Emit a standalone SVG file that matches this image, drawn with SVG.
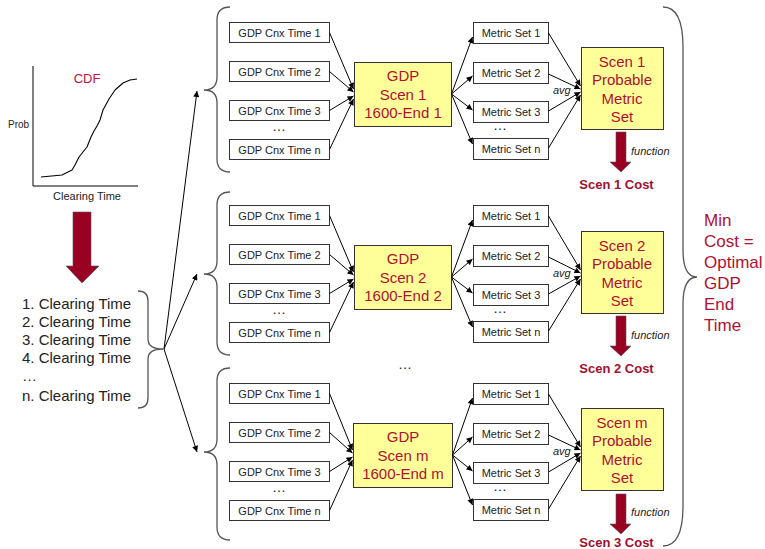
<svg xmlns="http://www.w3.org/2000/svg" width="765" height="549" viewBox="0 0 765 549">
<defs>
<style>
text{font-family:"Liberation Sans",Arial,Helvetica,sans-serif}
.box{fill:#fff;stroke:#333;stroke-width:1}
.ybox{fill:#FFFF99;stroke:#333;stroke-width:1}
.lbl{font-size:11px;fill:#222;text-anchor:middle}
.big{font-size:15px;fill:#B01030;text-anchor:middle}
.dots{font-size:14px;fill:#222;text-anchor:middle}
.it{font-size:11px;fill:#222;font-style:italic}
.cost{font-size:13px;fill:#A0102E;font-weight:bold;text-anchor:middle}
.conn{stroke:#000;stroke-width:1;fill:none;marker-end:url(#ah)}
.brace{stroke:#555;stroke-width:1.3;fill:none}
.rarrow{fill:#990022;stroke:#555;stroke-width:0.6}
</style>
<marker id="ah" viewBox="0 0 10 10" refX="10" refY="5" markerWidth="8" markerHeight="6" orient="auto" markerUnits="userSpaceOnUse"><path d="M0,0 L10,5 L0,10 z" fill="#000"/></marker>
</defs>
<rect width="765" height="549" fill="#fff"/>

<g id="cdf-chart">
<path d="M33,66 L33,186 L138,186" stroke="#000" stroke-width="1" fill="none"/>
<polyline points="41,177 62,175 72,170 75,165 79,157 83,152 87,147 89,142 91,137 94,131 97,126 100,120 103,110 109,99 115,90 123,83 130,80 137,79" fill="none" stroke="#000" stroke-width="1.1" stroke-linejoin="round"/>
<text x="87" y="83" font-size="13" fill="#C0143C" text-anchor="middle">CDF</text>
<text x="8" y="128" font-size="10" fill="#222">Prob</text>
<text x="87" y="200" font-size="11" fill="#222" text-anchor="middle">Clearing Time</text>
</g>

<g id="down-arrow"><polygon class="rarrow" points="73,212 91,212 91,266 99,266 82,283 66,266 73,266"/></g>

<g id="clearing-list" font-size="15" fill="#222">
<text x="22" y="309">1. Clearing Time</text>
<text x="22" y="327">2. Clearing Time</text>
<text x="22" y="345">3. Clearing Time</text>
<text x="22" y="363">4. Clearing Time</text>
<text x="22" y="381">…</text>
<text x="22" y="401">n. Clearing Time</text>
</g>

<g id="braces">
<path class="brace" d="M138,291 Q148,291 148,301 L148,339 Q148,349 163,349 Q148,349 148,359 L148,398 Q148,408 138,408" stroke="#333"/>
<path class="brace" d="M230,7 Q217,7 217,20 L217,77 Q217,90 204,90 Q217,90 217,103 L217,159 Q217,172 230,172"/>
<path class="brace" d="M230,192 Q217,192 217,205 L217,261 Q217,274 204,274 Q217,274 217,287 L217,342 Q217,355 230,355"/>
<path class="brace" d="M230,368 Q217,368 217,381 L217,439 Q217,452 204,452 Q217,452 217,465 L217,527 Q217,540 230,540"/>
<path class="brace" d="M663,7 Q683,7 683,47 L683,250 Q683,277 697,277 Q683,277 683,304 L683,506 Q683,546 663,546" stroke-width="1.6"/>
</g>

<g id="b1" transform="translate(0,0)">
<g id="b1-cnx1"><rect class="box" x="229.5" y="22.5" width="100" height="20"/><text class="lbl" x="279.5" y="36.5">GDP Cnx Time 1</text></g>
<g id="b1-cnx2"><rect class="box" x="229.5" y="61.5" width="100" height="20"/><text class="lbl" x="279.5" y="75.5">GDP Cnx Time 2</text></g>
<g id="b1-cnx3"><rect class="box" x="229.5" y="100.5" width="100" height="20"/><text class="lbl" x="279.5" y="114.5">GDP Cnx Time 3</text></g>
<text class="dots" x="279" y="131">…</text>
<g id="b1-cnxn"><rect class="box" x="229.5" y="139.5" width="100" height="20"/><text class="lbl" x="279.5" y="153.5">GDP Cnx Time n</text></g>
<g id="b1-gdp"><rect class="ybox" x="354.5" y="62.5" width="97" height="64"/><text class="big" x="403" y="81">GDP</text><text class="big" x="403" y="100">Scen 1</text><text class="big" x="403" y="118">1600-End 1</text></g>
<g id="b1-m1"><rect class="box" x="473.5" y="22.5" width="75" height="21"/><text class="lbl" x="511" y="37">Metric Set 1</text></g>
<g id="b1-m2"><rect class="box" x="473.5" y="62.5" width="75" height="21"/><text class="lbl" x="511" y="77">Metric Set 2</text></g>
<g id="b1-m3"><rect class="box" x="473.5" y="101.5" width="75" height="21"/><text class="lbl" x="511" y="116">Metric Set 3</text></g>
<text class="dots" x="500" y="130">…</text>
<g id="b1-mn"><rect class="box" x="473.5" y="138.5" width="75" height="21"/><text class="lbl" x="511" y="153">Metric Set n</text></g>
<text class="it" x="553" y="94">avg</text>
<g id="b1-prob"><rect class="ybox" x="581.5" y="47.5" width="82" height="82"/><text class="big" x="622" y="66.5">Scen 1</text><text class="big" x="622" y="85">Probable</text><text class="big" x="622" y="103.5">Metric</text><text class="big" x="622" y="122">Set</text></g>
<g id="b1-fn"><polygon class="rarrow" points="616,132 626,132 626,162 631,162 621,172 610,162 616,162"/><text class="it" x="631" y="155">function</text></g>
<g id="b1-cost"><text class="cost" x="616.5" y="188.5">Scen 1 Cost</text></g>
</g>

<g id="b2" transform="translate(0,183)">
<g id="b2-cnx1"><rect class="box" x="229.5" y="22.5" width="100" height="20"/><text class="lbl" x="279.5" y="36.5">GDP Cnx Time 1</text></g>
<g id="b2-cnx2"><rect class="box" x="229.5" y="61.5" width="100" height="20"/><text class="lbl" x="279.5" y="75.5">GDP Cnx Time 2</text></g>
<g id="b2-cnx3"><rect class="box" x="229.5" y="100.5" width="100" height="20"/><text class="lbl" x="279.5" y="114.5">GDP Cnx Time 3</text></g>
<text class="dots" x="279" y="131">…</text>
<g id="b2-cnxn"><rect class="box" x="229.5" y="139.5" width="100" height="20"/><text class="lbl" x="279.5" y="153.5">GDP Cnx Time n</text></g>
<g id="b2-gdp"><rect class="ybox" x="354.5" y="62.5" width="97" height="64"/><text class="big" x="403" y="81">GDP</text><text class="big" x="403" y="100">Scen 2</text><text class="big" x="403" y="118">1600-End 2</text></g>
<g id="b2-m1"><rect class="box" x="473.5" y="22.5" width="75" height="21"/><text class="lbl" x="511" y="37">Metric Set 1</text></g>
<g id="b2-m2"><rect class="box" x="473.5" y="62.5" width="75" height="21"/><text class="lbl" x="511" y="77">Metric Set 2</text></g>
<g id="b2-m3"><rect class="box" x="473.5" y="101.5" width="75" height="21"/><text class="lbl" x="511" y="116">Metric Set 3</text></g>
<text class="dots" x="500" y="130">…</text>
<g id="b2-mn"><rect class="box" x="473.5" y="138.5" width="75" height="21"/><text class="lbl" x="511" y="153">Metric Set n</text></g>
<text class="it" x="553" y="94">avg</text>
<g id="b2-prob"><rect class="ybox" x="581.5" y="48.5" width="82" height="82"/><text class="big" x="622" y="67.5">Scen 2</text><text class="big" x="622" y="86">Probable</text><text class="big" x="622" y="104.5">Metric</text><text class="big" x="622" y="123">Set</text></g>
<g id="b2-fn"><polygon class="rarrow" points="616,133 626,133 626,163 631,163 621,173 610,163 616,163"/><text class="it" x="631" y="156">function</text></g>
<g id="b2-cost"><text class="cost" x="616.5" y="189.5">Scen 2 Cost</text></g>
</g>

<text class="dots" x="405" y="369">…</text>

<g id="b3" transform="translate(0,361)">
<g id="b3-cnx1"><rect class="box" x="229.5" y="22.5" width="100" height="20"/><text class="lbl" x="279.5" y="36.5">GDP Cnx Time 1</text></g>
<g id="b3-cnx2"><rect class="box" x="229.5" y="61.5" width="100" height="20"/><text class="lbl" x="279.5" y="75.5">GDP Cnx Time 2</text></g>
<g id="b3-cnx3"><rect class="box" x="229.5" y="100.5" width="100" height="20"/><text class="lbl" x="279.5" y="114.5">GDP Cnx Time 3</text></g>
<text class="dots" x="279" y="131">…</text>
<g id="b3-cnxn"><rect class="box" x="229.5" y="139.5" width="100" height="20"/><text class="lbl" x="279.5" y="153.5">GDP Cnx Time n</text></g>
<g id="b3-gdp"><rect class="ybox" x="353.5" y="62.5" width="99" height="64"/><text class="big" x="403" y="81">GDP</text><text class="big" x="403" y="100">Scen m</text><text class="big" x="403" y="118">1600-End m</text></g>
<g id="b3-m1"><rect class="box" x="473.5" y="22.5" width="75" height="21"/><text class="lbl" x="511" y="37">Metric Set 1</text></g>
<g id="b3-m2"><rect class="box" x="473.5" y="62.5" width="75" height="21"/><text class="lbl" x="511" y="77">Metric Set 2</text></g>
<g id="b3-m3"><rect class="box" x="473.5" y="101.5" width="75" height="21"/><text class="lbl" x="511" y="116">Metric Set 3</text></g>
<text class="dots" x="500" y="130">…</text>
<g id="b3-mn"><rect class="box" x="473.5" y="138.5" width="75" height="21"/><text class="lbl" x="511" y="153">Metric Set n</text></g>
<text class="it" x="553" y="94">avg</text>
<g id="b3-prob"><rect class="ybox" x="581.5" y="47.5" width="82" height="82"/><text class="big" x="622" y="66.5">Scen m</text><text class="big" x="622" y="85">Probable</text><text class="big" x="622" y="103.5">Metric</text><text class="big" x="622" y="122">Set</text></g>
<g id="b3-fn"><polygon class="rarrow" points="616,133 626,133 626,163 631,163 621,173 610,163 616,163"/><text class="it" x="631" y="155">function</text></g>
<g id="b3-cost"><text class="cost" x="616.5" y="185.5">Scen 3 Cost</text></g>
</g>

<g id="result" font-size="17" fill="#B01030">
<text x="704" y="226">Min</text>
<text x="704" y="247">Cost =</text>
<text x="704" y="268">Optimal</text>
<text x="704" y="289">GDP</text>
<text x="704" y="310">End</text>
<text x="704" y="331">Time</text>
</g>

<g id="connectors">
<path class="conn" d="M164,349 L197,91"/>
<path class="conn" d="M164,349 L197,274"/>
<path class="conn" d="M164,349 L197,452"/>
<g id="conn-b1">
<path class="conn" d="M329.5,32.5 L353.5,89"/>
<path class="conn" d="M329.5,71.5 L353.5,92"/>
<path class="conn" d="M329.5,110.5 L353.5,96"/>
<path class="conn" d="M329.5,149.5 L353.5,99"/>
<path class="conn" d="M451.5,94 L472.5,37"/>
<path class="conn" d="M451.5,94 L472.5,76"/>
<path class="conn" d="M451.5,94 L472.5,110"/>
<path class="conn" d="M451.5,94 L472.5,144"/>
<path class="conn" d="M548.5,33 L580.5,86"/>
<path class="conn" d="M548.5,74 L580.5,89"/>
<path class="conn" d="M548.5,111 L580.5,92"/>
<path class="conn" d="M548.5,148 L580.5,95"/>
</g>
<g id="conn-b2" transform="translate(0,183)">
<path class="conn" d="M329.5,32.5 L353.5,89"/>
<path class="conn" d="M329.5,71.5 L353.5,92"/>
<path class="conn" d="M329.5,110.5 L353.5,96"/>
<path class="conn" d="M329.5,149.5 L353.5,99"/>
<path class="conn" d="M451.5,94 L472.5,37"/>
<path class="conn" d="M451.5,94 L472.5,76"/>
<path class="conn" d="M451.5,94 L472.5,110"/>
<path class="conn" d="M451.5,94 L472.5,144"/>
<path class="conn" d="M548.5,33 L580.5,87"/>
<path class="conn" d="M548.5,74 L580.5,90"/>
<path class="conn" d="M548.5,111 L580.5,93"/>
<path class="conn" d="M548.5,148 L580.5,96"/>
</g>
<g id="conn-b3" transform="translate(0,361)">
<path class="conn" d="M329.5,32.5 L352.5,89"/>
<path class="conn" d="M329.5,71.5 L352.5,92"/>
<path class="conn" d="M329.5,110.5 L352.5,96"/>
<path class="conn" d="M329.5,149.5 L352.5,99"/>
<path class="conn" d="M452.5,94 L472.5,37"/>
<path class="conn" d="M452.5,94 L472.5,76"/>
<path class="conn" d="M452.5,94 L472.5,110"/>
<path class="conn" d="M452.5,94 L472.5,144"/>
<path class="conn" d="M548.5,33 L580.5,86"/>
<path class="conn" d="M548.5,74 L580.5,89"/>
<path class="conn" d="M548.5,111 L580.5,92"/>
<path class="conn" d="M548.5,148 L580.5,95"/>
</g>
</g>
</svg>
